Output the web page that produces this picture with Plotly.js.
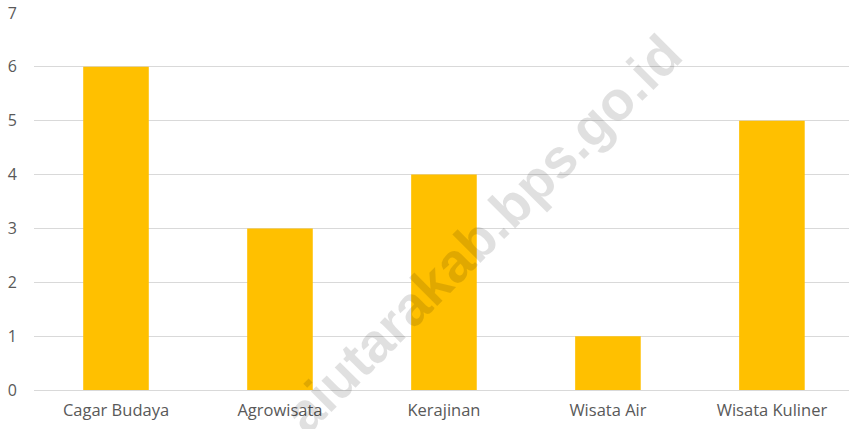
<!DOCTYPE html>
<html>
<head>
<meta charset="utf-8">
<script src="https://cdn.plot.ly/plotly-3.0.1.min.js"></script>
<style>html,body{margin:0;padding:0;background:#fff;}#chart{width:849px;height:429px;}</style>
</head>
<body>
<div id="chart"></div>
<script>
const categories = ["Cagar Budaya", "Agrowisata", "Kerajinan", "Wisata Air", "Wisata Kuliner"];
const values = [6, 3, 4, 1, 5];
const yTicks = [0, 1, 2, 3, 4, 5, 6, 7];
const watermark = "aiutarakab.bps.go.id";

const trace = {
  type: "bar",
  x: categories,
  y: values,
  width: 0.4,
  marker: {color: "#FFC000"},
  hoverinfo: "x+y"
};

const layout = {
  width: 849,
  height: 429,
  margin: {l: 34, r: 0, t: 13, b: 39},
  paper_bgcolor: "#ffffff",
  plot_bgcolor: "#ffffff",
  showlegend: false,
  font: {family: "Open Sans, sans-serif", color: "#595959", size: 16},
  xaxis: {
    range: [-0.5, 4.47],
    showgrid: false,
    zeroline: false,
    showline: false,
    ticks: "",
    ticklabelstandoff: 8,
    tickfont: {size: 16.5, color: "#595959"}
  },
  yaxis: {
    range: [0, 7],
    tickvals: yTicks,
    showgrid: true,
    gridcolor: "#d9d9d9",
    gridwidth: 1,
    zeroline: true,
    zerolinecolor: "#d9d9d9",
    zerolinewidth: 1,
    showline: false,
    ticks: "",
    ticklabelstandoff: 16,
    tickfont: {size: 16, color: "#595959"}
  },
  annotations: [{
    xref: "paper", yref: "paper",
    x: 0.55, y: 0.415,
    text: watermark,
    showarrow: false,
    textangle: -45,
    font: {family: "Liberation Sans, Arial, sans-serif", size: 55, color: "rgba(0,0,0,0.12)", weight: "bold"}
  }]
};

Plotly.newPlot("chart", [trace], layout, {displayModeBar: false, staticPlot: true});
</script>
</body>
</html>
